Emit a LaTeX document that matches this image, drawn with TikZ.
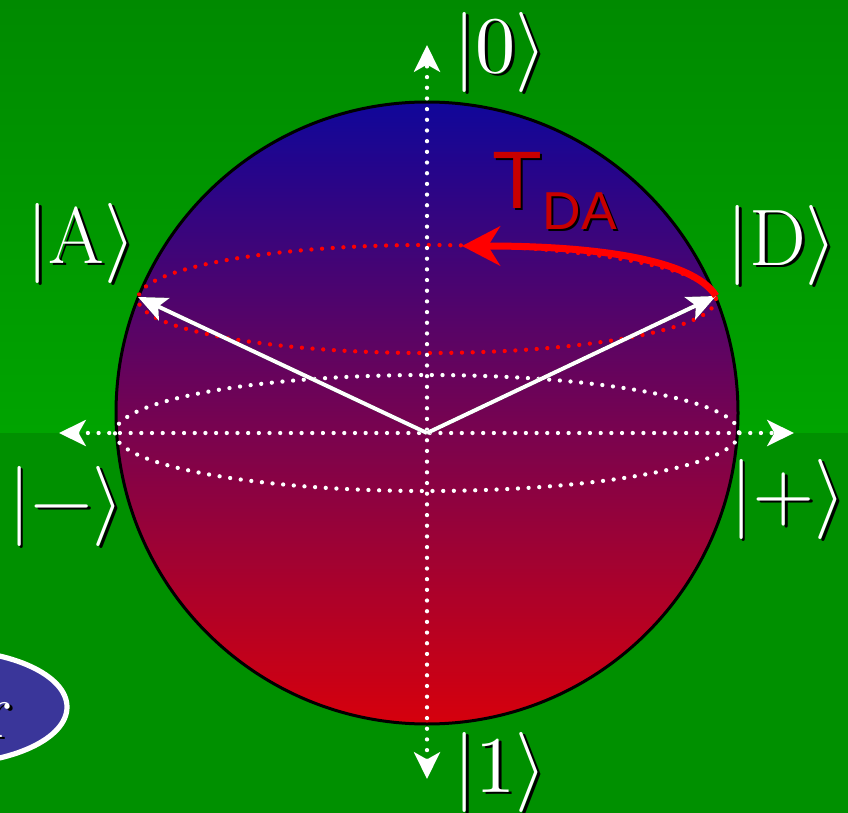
\documentclass[tikz,border=0pt]{standalone}
\usepackage{fontspec}
\usepackage{unicode-math}
\setmathfont{Latin Modern Math}
\usetikzlibrary{positioning,arrows.meta,calc}
\newfontfamily\tdafont{Liberation Sans}
\definecolor{bgTop}{RGB}{0,138,0}
\definecolor{bgMid}{RGB}{0,164,0}
\definecolor{bgLow}{RGB}{0,144,0}
\definecolor{poleBlue}{RGB}{16,6,154}
\definecolor{midPurple}{RGB}{176,0,122}
\definecolor{poleRed}{RGB}{214,0,12}
\definecolor{tdaRed}{RGB}{200,0,0}
\definecolor{bubbleBlue}{RGB}{58,54,154}
\tikzset{
  axtip/.tip={Stealth[length=0.67cm,width=0.65cm,inset=0.18cm]},
  vectip/.tip={Stealth[length=0.72cm,width=0.62cm,inset=0.16cm]},
  rottip/.tip={Stealth[length=0.95cm,width=0.98cm,inset=0.3cm]}
}

\begin{document}
\begin{tikzpicture}[x=0.025cm,y=-0.025cm,
  ket/.style={text=white,font=\fontsize{57}{60}\selectfont,inner sep=0pt},
  ketshadow/.style={ket,text=black,xshift=0.07cm,yshift=-0.07cm},
  dotline/.style={line width=0.107cm,line cap=round,dash pattern=on 0pt off 0.267cm},
  axis/.style={dotline,white,axtip-axtip},
  vec/.style={white,line width=0.1cm,-vectip}]
\useasboundingbox (0,0) rectangle (848,813);
\clip (0,0) rectangle (848,813);
% --- background ---
\shade[top color=bgTop,bottom color=bgMid] (0,0) rectangle (848,433);
\fill[bgLow] (0,433) rectangle (848,813);
% --- bubble at the lower left ---
\filldraw[fill=bubbleBlue,draw=white,line width=0.13cm] (-55,707) ellipse [x radius=122,y radius=57];
\node[ketshadow,anchor=base east] (bubrs) at (12,737) {r};
\node[ket,anchor=base east] (bubr) at (12,737) {r};
% --- sphere ---
\coordinate (o) at (427,433);
\shade[top color=poleBlue,middle color=midPurple,bottom color=poleRed] (427,413) circle [radius=311];
\draw[black,line width=0.075cm] (427,413) circle [radius=311];
\draw[dotline,white] (o) ellipse [x radius=312,y radius=58];
\draw[dotline,red] (427,299) ellipse [x radius=289,y radius=54];
% --- axes ---
\coordinate (ztop) at (427,45);
\coordinate (zbot) at (427,779);
\coordinate (xl) at (59,433);
\coordinate (xr) at (794,433);
\draw[axis] (zbot) -- (ztop);
\draw[axis] (xl) -- (xr);
% --- state vectors ---
\coordinate (vA) at (138,297);
\coordinate (vD) at (716,296);
\draw[vec,black,xshift=0.05cm,yshift=-0.05cm] (o) -- (vA);
\draw[vec,black,xshift=0.05cm,yshift=-0.05cm] (o) -- (vD);
\draw[vec] (o) -- (vA);
\draw[vec] (o) -- (vD);
% --- rotation D -> A ---
\coordinate (rotend) at (462,246);
\draw[red,line width=0.175cm,-rottip] (vD) .. controls (692,258) and (590,246) .. (rotend);
\node[anchor=base west,text=black,xshift=0.05cm,yshift=-0.05cm] (tdas) at (488,209)
  {\tdafont\fontsize{58}{60}\selectfont T\fontsize{38}{40}\selectfont\raisebox{-0.52cm}{DA}};
\node[anchor=base west,text=tdaRed] (tda) at (488,209)
  {\tdafont\fontsize{58}{60}\selectfont T\fontsize{38}{40}\selectfont\raisebox{-0.52cm}{DA}};
% --- kets ---
\node[ketshadow] (k0s) at (500,52) {$|0\rangle$};
\node[ket] (k0) at (500,52) {$|0\rangle$};
\node[ketshadow] (k1s) at (500,772) {$|1\rangle$};
\node[ket] (k1) at (500,772) {$|1\rangle$};
\node[ketshadow] (kAs) at (81,243) {$|\mathrm{A}\rangle$};
\node[ket] (kA) at (81,243) {$|\mathrm{A}\rangle$};
\node[ketshadow] (kDs) at (782,245) {$|\mathrm{D}\rangle$};
\node[ket] (kD) at (782,245) {$|\mathrm{D}\rangle$};
\node[ketshadow] (kms) at (66,506) {$|{-}\rangle$};
\node[ket] (km) at (66,506) {$|{-}\rangle$};
\node[ketshadow] (kps) at (788,499) {$|{+}\rangle$};
\node[ket] (kp) at (788,499) {$|{+}\rangle$};
\end{tikzpicture}
\end{document}
